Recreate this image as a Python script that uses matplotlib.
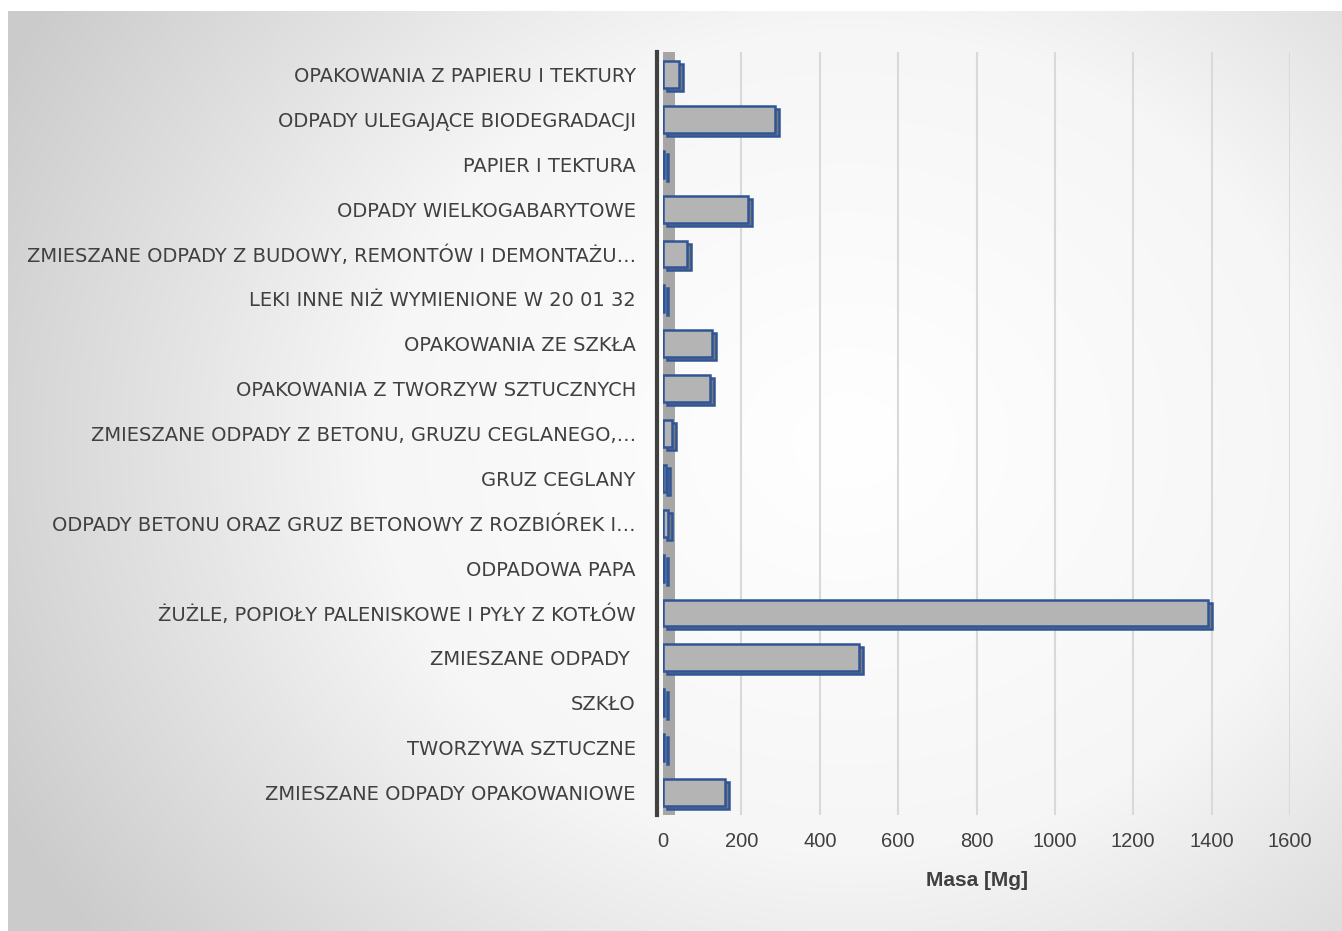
import numpy as np
import matplotlib
matplotlib.use("Agg")
import matplotlib.pyplot as plt
import matplotlib.transforms as mtransforms
from matplotlib.colors import LinearSegmentedColormap

categories = [
    "OPAKOWANIA Z PAPIERU I TEKTURY",
    "ODPADY ULEGAJĄCE BIODEGRADACJI",
    "PAPIER I TEKTURA",
    "ODPADY WIELKOGABARYTOWE",
    "ZMIESZANE ODPADY Z BUDOWY, REMONTÓW I DEMONTAŻU…",
    "LEKI INNE NIŻ WYMIENIONE W 20 01 32",
    "OPAKOWANIA ZE SZKŁA",
    "OPAKOWANIA Z TWORZYW SZTUCZNYCH",
    "ZMIESZANE ODPADY Z BETONU, GRUZU CEGLANEGO,…",
    "GRUZ CEGLANY",
    "ODPADY BETONU ORAZ GRUZ BETONOWY Z ROZBIÓREK I…",
    "ODPADOWA PAPA",
    "ŻUŻLE, POPIOŁY PALENISKOWE I PYŁY Z KOTŁÓW",
    "ZMIESZANE ODPADY ",
    "SZKŁO",
    "TWORZYWA SZTUCZNE",
    "ZMIESZANE ODPADY OPAKOWANIOWE",
]
values = [42, 285, 2, 218, 62, 2, 126, 120, 24, 8, 12, 3, 1390, 500, 2, 2, 157]
xticks = [0, 200, 400, 600, 800, 1000, 1200, 1400, 1600]
xlabel = "Masa [Mg]"

W, H = 1342, 931
fig = plt.figure(figsize=(W / 100, H / 100), dpi=100)
fig.patch.set_facecolor("white")

# gradient background
bg = fig.add_axes([8 / W, 0, 1 - 8 / W, 1 - 11 / H], zorder=0)
yy, xx = np.mgrid[0:920, 0:1334]
cx, cy = 840, 430
r = np.sqrt((xx - cx) ** 2 + ((yy - cy) * 1.15) ** 2)
g = np.clip(r / 950.0, 0, 1)
cmap = LinearSegmentedColormap.from_list("bg", ["#ffffff", "#f6f6f6", "#cbcbcb"])
bg.imshow(g, cmap=cmap, aspect="auto", vmin=0, vmax=1)
bg.axis("off")

ax = fig.add_axes([663 / W, (931 - 815) / H, (1290 - 663) / W, (815 - 52) / H], zorder=1)
ax.patch.set_alpha(0)
n = len(categories)
y = np.arange(n)[::-1]

# side wall of the 3D plot
ax.axvspan(0, 30, color="#a6a6a6", zorder=1, lw=0)

# depth faces
off = mtransforms.offset_copy(ax.transData, fig=fig, x=4, y=-3, units="dots")
ax.barh(y, values, height=0.6, color="#7a7a7a", edgecolor="#2f5597",
        linewidth=1.8, transform=off, zorder=3)
ax.barh(y, values, height=0.6, color="#b4b4b4", edgecolor="#2f5597",
        linewidth=1.8, zorder=4)

ax.set_xlim(0, 1600)
ax.set_ylim(-0.5, n - 0.5)
ax.set_xticks(xticks)
ax.set_xticklabels([str(t) for t in xticks], fontfamily="Liberation Sans")
ax.set_yticks(y)
ax.set_yticklabels(categories, fontfamily="Liberation Sans")
ax.tick_params(axis="y", length=0, labelsize=14, pad=15.5, labelcolor="#404040")
ax.tick_params(axis="x", length=0, labelsize=14.5, pad=12, labelcolor="#404040")
ax.xaxis.grid(True, color="#d9d9d9", linewidth=1.5, zorder=0)
ax.set_axisbelow(True)
for s in ["top", "right", "bottom"]:
    ax.spines[s].set_visible(False)
ax.spines["left"].set_color("#404040")
ax.spines["left"].set_linewidth(3)
ax.spines["left"].set_position(("axes", -0.009))

ax.set_xlabel(xlabel, fontsize=15, fontweight="bold", color="#404040",
              fontfamily="Liberation Sans", labelpad=15)

fig.savefig("out.png", dpi=100)
